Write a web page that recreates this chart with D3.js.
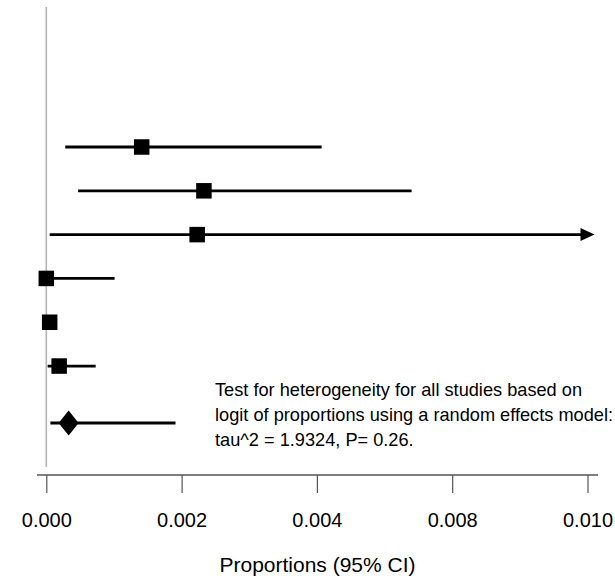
<!DOCTYPE html>
<html>
<head>
<meta charset="utf-8">
<script src="https://cdn.jsdelivr.net/npm/d3@7"></script>
<style>
  body { margin: 0; background: #fff; }
  svg { display: block; font-family: "Liberation Sans", Arial, sans-serif; }
</style>
</head>
<body>
<svg id="chart" width="615" height="576"></svg>
<script>
// study estimates and 95% CI (proportions)
const estimates = [0.00141, 0.00233, 0.00223, 0.00000, 0.00005, 0.00019];
const lower     = [0.00028, 0.00047, 0.00005, 0.00000, 0.00001, 0.00002];
const upper     = [0.00407, 0.00540, 0.01200, 0.00101, 0.00010, 0.00073];

// pooled (random effects)
const pooled = { est: 0.00033, lo: 0.00006, hi: 0.00191 };

const tickValues = [0, 0.002, 0.004, 0.006, 0.008];
const tickLabels = ["0.000", "0.002", "0.004", "0.008", "0.010"];

const noteLines = [
  "Test for heterogeneity for all studies based on",
  "logit of proportions using a random effects model:",
  "tau^2 = 1.9324, P= 0.26."
];

const svg = d3.select("#chart");

const x = d3.scaleLinear().domain([0, 0.008]).range([46.3, 587.5]);
const pooledRow = estimates.length + 0.3;
const y = d3.scaleLinear().domain([0, pooledRow]).range([147, 423]);

const xMax = x.domain()[1];
const arrowTip = x.range()[1] + 7;

// reference line at 0
svg.append("line")
  .attr("x1", x(0)).attr("x2", x(0))
  .attr("y1", 7).attr("y2", 467)
  .attr("stroke", "#b3b3b3")
  .attr("stroke-width", 1.6);

const studies = estimates.map((d, i) => ({ est: d, lo: lower[i], hi: upper[i], row: i }));

// CI lines
svg.append("g").selectAll("line")
  .data(studies)
  .join("line")
  .attr("x1", d => x(d.lo))
  .attr("x2", d => d.hi > xMax ? arrowTip - 10 : x(d.hi))
  .attr("y1", d => y(d.row))
  .attr("y2", d => y(d.row))
  .attr("stroke", "#000")
  .attr("stroke-width", 2.8);

// arrows for CIs running off the axis
svg.append("g").selectAll("path")
  .data(studies.filter(d => d.hi > xMax))
  .join("path")
  .attr("d", d => {
    const yy = y(d.row);
    return `M${arrowTip},${yy} L${arrowTip - 14},${yy - 6.5} L${arrowTip - 14},${yy + 6.5} Z`;
  })
  .attr("fill", "#000");

// boxes
const box = 15.5;
svg.append("g").selectAll("rect")
  .data(studies)
  .join("rect")
  .attr("x", d => x(d.est) - box / 2)
  .attr("y", d => y(d.row) - box / 2)
  .attr("width", box)
  .attr("height", box)
  .attr("fill", "#000");

// pooled estimate
svg.append("line")
  .attr("x1", x(pooled.lo)).attr("x2", x(pooled.hi))
  .attr("y1", y(pooledRow)).attr("y2", y(pooledRow))
  .attr("stroke", "#000")
  .attr("stroke-width", 2.8);

const py = y(pooledRow), px = x(pooled.est);
svg.append("path")
  .attr("d", `M${px - 10},${py} L${px},${py - 12.5} L${px + 10},${py} L${px},${py + 12.5} Z`)
  .attr("fill", "#000");

// x axis
const axisY = 475;
const gx = svg.append("g")
  .attr("transform", `translate(0,${axisY})`)
  .call(d3.axisBottom(x)
    .tickValues(tickValues)
    .tickFormat((d, i) => tickLabels[i])
    .tickSize(18)
    .tickSizeOuter(0)
    .tickPadding(20));

gx.select(".domain").remove();
gx.selectAll(".tick line").attr("stroke", "#555").attr("stroke-width", 1.2);
gx.selectAll(".tick text")
  .attr("fill", "#000")
  .style("font-size", "20px")
  .style("font-family", "'Liberation Sans', Arial, sans-serif");

svg.append("line")
  .attr("x1", 37).attr("x2", 598)
  .attr("y1", axisY).attr("y2", axisY)
  .attr("stroke", "#555")
  .attr("stroke-width", 1.3);

svg.append("text")
  .attr("x", 317.5)
  .attr("y", 572)
  .attr("text-anchor", "middle")
  .style("font-size", "21px")
  .text("Proportions (95% CI)");

// heterogeneity note
svg.append("g").selectAll("text")
  .data(noteLines)
  .join("text")
  .attr("x", 215)
  .attr("y", (d, i) => 396 + i * 25)
  .style("font-size", "18.2px")
  .attr("fill", "#000")
  .text(d => d);
</script>
</body>
</html>
